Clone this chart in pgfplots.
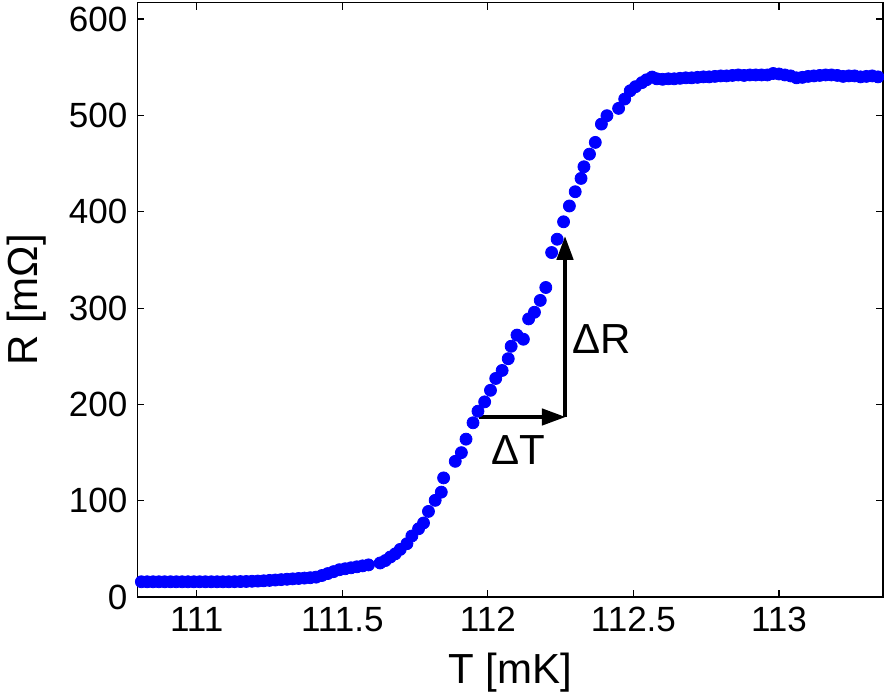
\documentclass[border=0pt]{standalone}
\usepackage{fontspec}
\setmainfont{Liberation Sans}
\usepackage{pgfplots}
\pgfplotsset{compat=1.18}
\usetikzlibrary{arrows.meta}
\definecolor{mblue}{RGB}{0,0,255}
\newcommand{\tickfont}{\fontsize{17.5}{19}\selectfont}
\newcommand{\labfont}{\fontsize{21}{23}\selectfont}
\begin{document}
\begin{tikzpicture}
\begin{axis}[
  scale only axis,
  width=372.5pt, height=297pt,
  xmin=110.796, xmax=113.357,
  ymin=0, ymax=617,
  xtick={111,111.5,112,112.5,113},
  xticklabels={111,111.5,112,112.5,113},
  ytick={0,100,200,300,400,500,600},
  yticklabels={0,100,200,300,400,500,600},
  tick align=inside,
  major tick length=3.5pt,
  axis line style={line width=0.8pt},
  major tick style={black, line width=0.6pt},
  xticklabel style={font=\tickfont, yshift=-1.5pt},
  yticklabel style={font=\tickfont, xshift=-1.5pt},
  xlabel={T [mK]},
  ylabel={R [mΩ]},
  xlabel style={font=\labfont, yshift=-3.5pt},
  ylabel style={font=\labfont, yshift=4.6pt},
  clip=true,
]
\addplot[only marks, mark=*, mark size=3pt, mblue, mark options={draw=mblue, fill=mblue}] coordinates {
(110.81,16) (110.83,16) (110.85,16) (110.87,16) (110.89,16) (110.91,16) (110.93,16)
(110.95,16) (110.97,16) (110.99,16) (111.01,16) (111.03,16) (111.05,16) (111.07,16)
(111.09,16) (111.11,16) (111.13,16.1) (111.15,16.2) (111.17,16.3) (111.19,16.5)
(111.21,16.7) (111.23,17) (111.25,17.4) (111.27,17.8) (111.29,18.2) (111.31,18.6)
(111.33,19) (111.35,19.4) (111.37,19.8) (111.39,20.2) (111.41,20.8) (111.43,22.5)
(111.45,24.5) (111.47,26.5) (111.49,28.5) (111.51,29.5) (111.53,30.5) (111.55,31.5)
(111.57,32.5) (111.59,33.5)
(111.630,35.5) (111.648,38) (111.665,41.7) (111.682,45) (111.699,49.6) (111.722,55.5)
(111.739,63.5) (111.762,71) (111.779,77) (111.796,89) (111.819,100.5) (111.840,109)
(111.848,123.8) (111.888,141) (111.909,150) (111.925,164) (111.949,181) (111.966,193)
(111.989,202.7) (112.009,214.7) (112.027,227) (112.049,235.3) (112.070,247.5)
(112.080,260.4) (112.100,272) (112.122,267.7) (112.140,288.8) (112.160,295.7)
(112.180,308) (112.199,321.4) (112.219,357.7) (112.238,371.5) (112.260,389.6)
(112.280,406) (112.300,420.8) (112.320,434.6) (112.330,446.7) (112.349,459.8)
(112.369,472) (112.390,491) (112.409,499.7) (112.449,507.3) (112.470,517)
(112.489,525.6) (112.507,529.8) (112.529,534) (112.545,537) (112.564,539.8)
(112.58,538) (112.60,537.5) (112.62,538) (112.64,538) (112.66,538.5) (112.68,539)
(112.70,539) (112.72,539.5) (112.74,540) (112.76,540) (112.78,540.5) (112.80,541)
(112.82,541) (112.84,541.5) (112.86,542) (112.88,541.5) (112.90,542) (112.92,542)
(112.94,542) (112.96,542) (112.98,543.5) (113.00,543) (113.02,542) (113.04,541)
(113.06,539) (113.08,539.5) (113.10,540.5) (113.12,541) (113.14,541.5) (113.16,542)
(113.18,542) (113.20,541.5) (113.22,540.5) (113.24,541) (113.26,541) (113.28,540)
(113.30,540.5) (113.32,541) (113.34,540) (113.36,540)
};
\addplot[black, line width=2.2pt, -{Triangle[length=12pt,width=8pt]}] coordinates {(111.971,187) (112.268,187)};
\addplot[black, line width=2.2pt, -{Triangle[length=12pt,width=8pt]}] coordinates {(112.265,187) (112.265,375)};
\node[font=\fontsize{21}{23}\selectfont] at (axis cs:112.105,153) {ΔT};
\node[font=\fontsize{21}{23}\selectfont] at (axis cs:112.39,268) {ΔR};
\end{axis}
\end{tikzpicture}
\end{document}
